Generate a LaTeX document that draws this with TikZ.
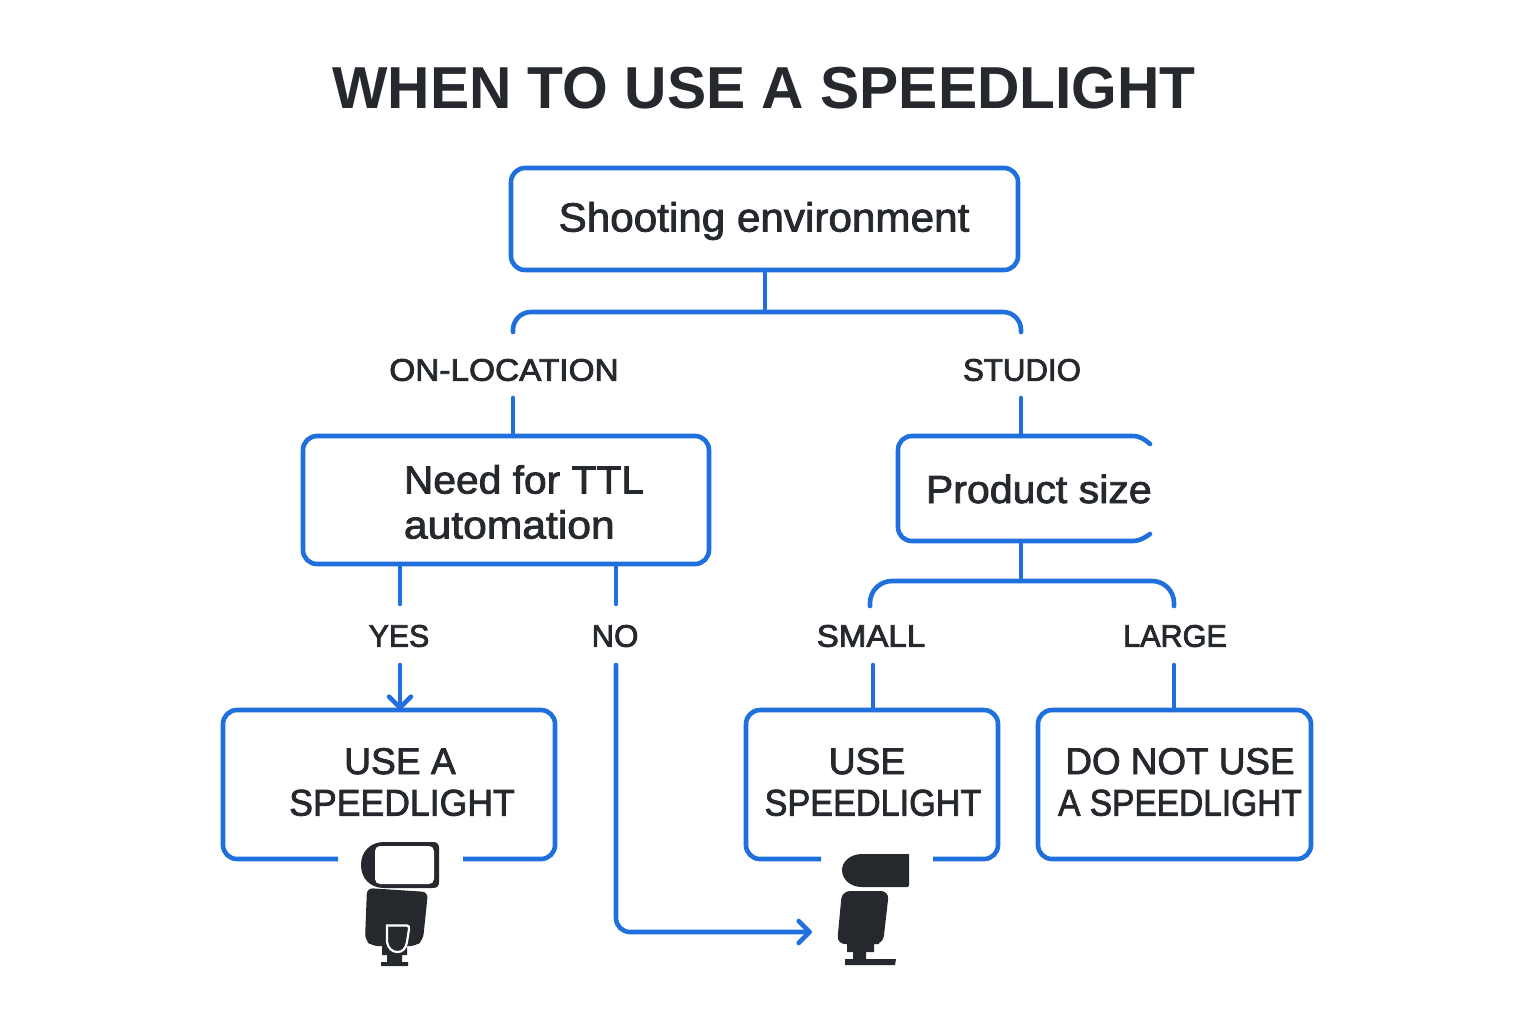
\documentclass[tikz,border=0pt]{standalone}
\usepackage{fontspec}
\usepackage{graphicx}
\setmainfont{Liberation Sans}
\newfontfamily\medf{Liberation Sans}
\newfontfamily\boldf{Liberation Sans Bold}
\usetikzlibrary{arrows.meta,calc}
\definecolor{flowblue}{HTML}{1F6FDC}
\definecolor{ink}{HTML}{25282C}
\newcommand\xs[2]{\scalebox{#1}[1]{#2}}
\newcommand\hv[1]{\special{pdf:code 2 Tr 0.4 w}#1\special{pdf:code 0 Tr}}
\tikzset{
  flow/.style={draw=flowblue,line width=2.3pt,line cap=round,line join=round},
  tipped/.style={flow,-{Straight Barb[length=5.5pt,width=11pt,line width=2.3pt,round]}},
  boxshape/.style={flow,rounded corners=7pt},
  anchorbox/.style={inner sep=0pt,outer sep=0pt,anchor=north west},
  main/.style={text=ink,font=\medf\fontsize{19.6}{22.5}\selectfont,align=left,inner sep=0pt},
  capsmain/.style={text=ink,font=\medf\fontsize{18.6}{20.8}\selectfont,align=center,inner sep=0pt},
  caplabel/.style={text=ink,font=\medf\fontsize{15.6}{18}\selectfont,inner sep=0pt},
  icon/.style={fill=ink,draw=none},
}
\begin{document}
\begin{tikzpicture}[x=0.5pt,y=-0.5pt]
\useasboundingbox (0,0) rectangle (1536,1024);
\fill[white] (0,0) rectangle (1536,1024);

\node[text=ink,font=\boldf\fontsize{29.6}{34}\selectfont,inner sep=0pt] (title) at (764,88) {\xs{0.992}{WHEN TO USE A SPEEDLIGHT}};

% boxes
\node[anchorbox,minimum width=253.5pt,minimum height=51pt] (shoot) at (511,168) {};
\node[anchorbox,minimum width=203pt,minimum height=64pt] (need) at (303,436) {};
\node[anchorbox,minimum width=126pt,minimum height=52.5pt] (prod) at (898,436) {};
\node[anchorbox,minimum width=166pt,minimum height=74.5pt] (usea) at (223,710) {};
\node[anchorbox,minimum width=126pt,minimum height=74.5pt] (use) at (746,710) {};
\node[anchorbox,minimum width=136.5pt,minimum height=74.5pt] (donot) at (1038,710) {};

\draw[boxshape] (shoot.north west) rectangle (shoot.south east);
\draw[boxshape] (need.north west) rectangle (need.south east);
\draw[boxshape] (donot.north west) rectangle (donot.south east);
\draw[flow] (prod.east |- 0,444) .. controls (1144,439) and (1140,436) .. (1132,436) -- (912,436)
   .. controls (904,436) and (898,442) .. (898,450) -- (898,527)
   .. controls (898,535) and (904,541) .. (912,541) -- (1132,541)
   .. controls (1140,541) and (1144,538) .. (prod.east |- 0,534);
\draw[boxshape,line cap=butt] (338,859) -- (usea.south west) -- (usea.north west) -- (usea.north east) -- (usea.south east) -- (463,859);
\draw[boxshape,line cap=butt] (821,859) -- (use.south west) -- (use.north west) -- (use.north east) -- (use.south east) -- (933,859);

% texts
\node[main,font=\medf\fontsize{20.4}{23}\selectfont] (shoottext) at (764,221) {\hv{\xs{1.035}{Shooting environment}}};
\node[main,anchor=west] (needtext) at (403.5,502) {\hv{\xs{1.04}{Need for TTL}}\\\hv{\xs{1.087}{automation}}};
\node[main,anchor=west] (prodtext) at (925.5,489) {\hv{\xs{1.047}{Product size}}};
\node[capsmain] (useatext) at (402,782) {\hv{USE A}\hspace*{2pt}\\\hv{\xs{0.957}{SPEEDLIGHT}}};
\node[capsmain] (usetext) at (873,782) {\hv{USE}\hspace*{6pt}\\\hv{\xs{0.92}{SPEEDLIGHT}}};
\node[capsmain] (donottext) at (1180,782) {\hv{\xs{0.99}{DO NOT USE}}\\\hv{\xs{0.9}{A SPEEDLIGHT}}};

\node[caplabel] (onloc) at (504,370) {\hv{\xs{1.07}{ON-LOCATION}}};
\node[caplabel] (studio) at (1022,370) {\hv{STUDIO}};
\node[caplabel] (yes) at (399,636) {\hv{\xs{0.97}{YES}}};
\node[caplabel] (no) at (615,636) {\hv{NO}};
\node[caplabel] (small) at (871,636) {\hv{\xs{1.06}{SMALL}}};
\node[caplabel] (large) at (1175,636) {\hv{\xs{0.98}{LARGE}}};

% connectors
\coordinate (splitA) at (765,312);
\coordinate (splitB) at (1021,581);
\coordinate (turnNo) at (616,932);
\coordinate (flashEnd) at (812,932);
\draw[flow] (shoot.south -| splitA) -- (splitA);
\draw[flow,rounded corners=9pt] (513,332) |- (splitA) -| (1021,332);
\draw[flow] (513,398) -- (513,0 |- need.north);
\draw[flow] (1021,398) -- (1021,0 |- prod.north);
\draw[flow] (400,0 |- need.south) -- (400,604);
\draw[flow] (616,0 |- need.south) -- (616,604);
\draw[tipped] (400,665) -- (400,0 |- usea.north);
\draw[tipped,rounded corners=7pt] (616,665) -- (turnNo) -- (flashEnd);
\draw[flow] (prod.south -| splitB) -- (splitB);
\draw[flow,rounded corners=11pt] (870,606) |- (splitB) -| (1174,606);
\draw[flow] (873,665) -- (873,0 |- use.north);
\draw[flow] (1174,665) -- (1174,0 |- donot.north);

% left flash
\fill[icon] (439,848) .. controls (439,844) and (437,842) .. (433,842) -- (384,842)
  .. controls (370,842) and (361,852) .. (361,865) .. controls (361,878) and (370,888) .. (384,888)
  -- (433,888) .. controls (437,888) and (439,886) .. (439,882) -- cycle;
\fill[white,rounded corners=2.5pt] (375,846) rectangle (434,884);
\fill[icon,rounded corners=3pt] (367,888) -- (428,892) -- (423,940) -- (416,946) -- (372,946) -- (365,940) -- cycle;
\fill[icon] (382,944) -- (407,944) -- (407,955) -- (402,955) -- (402,962) -- (408,962) -- (408,966) -- (381,966) -- (381,962) -- (387,962) -- (387,955) -- (382,955) -- cycle;
\draw[white,line width=1.1pt] (387,925.5) -- (407,925.5) .. controls (409,925.5) and (409,927) .. (409,929) -- (407,942) .. controls (406,949) and (402,952) .. (397.5,952) .. controls (392,952) and (388,948) .. (387,942) -- (387,925.5) -- cycle;

% right flash
\fill[icon] (909,854) -- (862,854) .. controls (850,854) and (842,862) .. (842,870) .. controls (842,879) and (850,887) .. (862,887) -- (907,887) .. controls (908.5,887) and (909,886) .. (909,885) -- cycle;
\fill[icon,rounded corners=4pt] (842,891) -- (889,891) -- (883,944) -- (837,944) -- cycle;
\fill[icon] (847,940) -- (879,940) -- (879,944) -- (874,944) -- (874,952) -- (866,952) -- (866,959) -- (896,959) -- (895,965) -- (845,965) -- (845,959) -- (853,959) -- (853,952) -- (847,952) -- cycle;
\end{tikzpicture}
\end{document}
